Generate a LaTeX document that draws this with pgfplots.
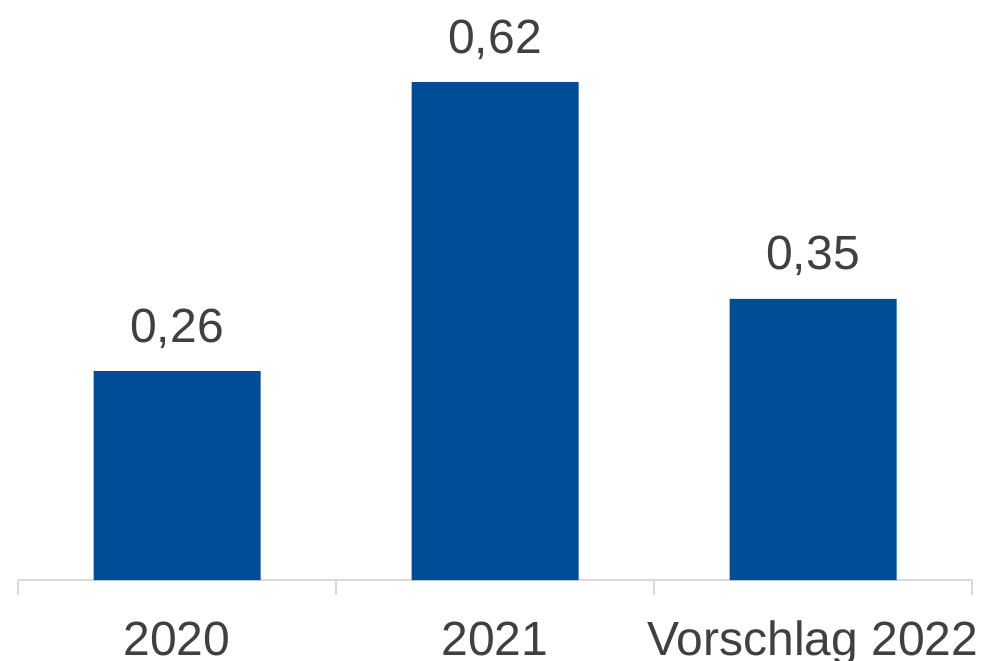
\documentclass[border=0pt]{standalone}
\usepackage{fontspec}
\setmainfont{Liberation Sans}
\usepackage{pgfplots}
\pgfplotsset{compat=1.18}
\definecolor{barblue}{RGB}{0,76,151}
\definecolor{labelgray}{RGB}{64,64,64}
\definecolor{axisgray}{RGB}{217,217,217}
\begin{document}
\begin{tikzpicture}
\useasboundingbox (0,0) rectangle (984bp,661bp);
\begin{axis}[
  at={(18bp,81bp)}, anchor=south west,
  scale only axis, width=954bp, height=580bp,
  xmin=-0.5, xmax=2.5, ymin=0, ymax=0.7223,
  clip=false,
  axis x line*=bottom, axis y line=none,
  x axis line style={axisgray, line width=1.5bp},
  xtick={0,1,2}, xticklabels={2020,2021,Vorschlag 2022},
  major tick length=0pt,
  major x tick style={draw=none},
  minor xtick={-0.5,0.5,1.5,2.5},
  minor tick length=15bp, tick align=outside,
  minor x tick style={axisgray, line width=1.5bp},
  xticklabel style={font=\fontsize{48bp}{56bp}\selectfont, text=labelgray, anchor=base, yshift=-75bp},
  ytick=\empty,
  ybar, bar width=167bp,
  nodes near coords={\pgfmathprintnumber[assume math mode=true]{\pgfplotspointmeta}},
  every node near coord/.append style={font=\fontsize{48bp}{56bp}\selectfont, text=labelgray, anchor=base, yshift=29bp},
  /pgf/number format/.cd, use comma, fixed, fixed zerofill, precision=2,
]
\addplot[fill=barblue, draw=none] coordinates {(0,0.26) (1,0.62) (2,0.35)};
\end{axis}
\end{tikzpicture}
\end{document}
